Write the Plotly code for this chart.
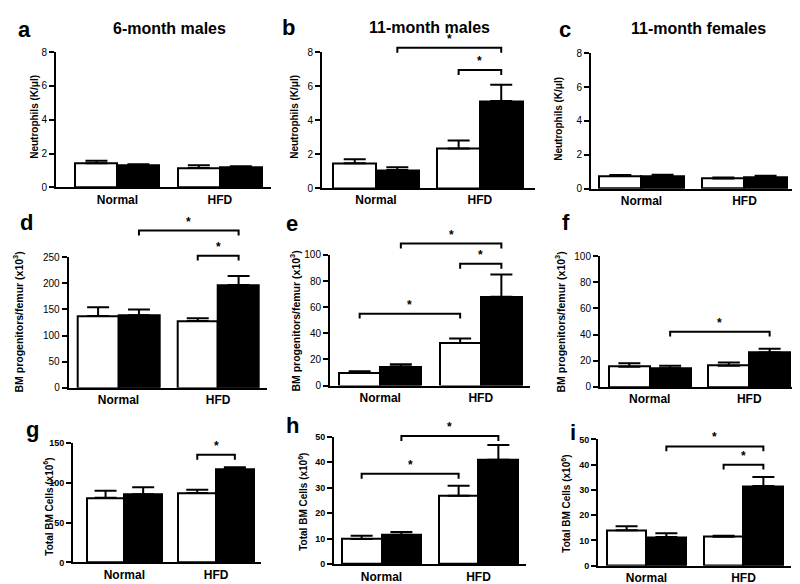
import plotly.graph_objects as go

W, H = 800, 584
FONT = "Liberation Sans, Arial, sans-serif"

groups = ["Normal", "HFD"]

# ---- data (mean, SEM) : white = control series, black = treated series ----
a_white = [1.43, 1.14]; a_white_err = [0.15, 0.17]
a_black = [1.30, 1.22]; a_black_err = [0.07, 0.03]

b_white = [1.46, 2.33]; b_white_err = [0.24, 0.47]
b_black = [1.06, 5.13]; b_black_err = [0.17, 0.97]

c_white = [0.75, 0.60]; c_white_err = [0.06, 0.06]
c_black = [0.72, 0.70]; c_black_err = [0.10, 0.06]

d_white = [137.5, 128.0]; d_white_err = [16.5, 5.0]
d_black = [139.0, 197.0]; d_black_err = [11.0, 17.0]

e_white = [9.5, 32.5]; e_white_err = [1.5, 3.5]
e_black = [14.5, 68.0]; e_black_err = [1.7, 17.0]

f_white = [15.5, 16.25]; f_white_err = [2.5, 2.5]
f_black = [14.25, 26.25]; f_black_err = [2.0, 3.0]

g_white = [81.4, 87.5]; g_white_err = [9.0, 4.0]
g_black = [86.0, 117.5]; g_black_err = [8.7, 2.5]

h_white = [9.9, 26.9]; h_white_err = [1.3, 3.9]
h_black = [11.5, 41.0]; h_black_err = [1.1, 5.8]

i_white = [14.0, 11.5]; i_white_err = [1.6, 0.4]
i_black = [11.4, 31.6]; i_black_err = [1.5, 3.5]

# significance brackets: ((group, series), (group, series), height)
b_brackets = [((0, 1), (1, 1), 8.28), ((1, 0), (1, 1), 6.96)]
d_brackets = [((0, 1), (1, 1), 301), ((1, 0), (1, 1), 253)]
e_brackets = [((0, 1), (1, 1), 108.75), ((1, 0), (1, 1), 93.25), ((0, 0), (1, 0), 55)]
f_brackets = [((0, 1), (1, 1), 42.25)]
g_brackets = [((1, 0), (1, 1), 135.6)]
h_brackets = [((0, 1), (1, 1), 50.3), ((0, 0), (1, 0), 35.5)]
i_brackets = [((0, 1), (1, 1), 47.2), ((1, 0), (1, 1), 40.0)]

neut_ticks = [0, 2, 4, 6, 8]
d_ticks = [0, 50, 100, 150, 200, 250]
ef_ticks = [0, 20, 40, 60, 80, 100]
g_ticks = [0, 50, 100, 150]
hi_ticks = [0, 10, 20, 30, 40, 50]

neut_title = "Neutrophils (K/\u03bcl)"
prog_title = "BM progenitors/femur (x10<sup>3</sup>)"
cells_title = "Total BM Cells (x10<sup>6</sup>)"

# ---- layout geometry (pixels) ----
panels = [
    dict(L="a", w=a_white, we=a_white_err, b=a_black, be=a_black_err, br=[],
         ticks=neut_ticks, yt=neut_title, xpx=(48, 263), xr=(-0.60, 1.50),
         ypx=(39, 177), bold=False, lp=(16, 16), tp=(27, 105), tsz=10),
    dict(L="b", w=b_white, we=b_white_err, b=b_black, be=b_black_err, br=b_brackets,
         ticks=neut_ticks, yt=neut_title, xpx=(314, 527), xr=(-0.52, 1.53),
         ypx=(39.3, 177.7), bold=False, lp=(280, 14), tp=(287, 105), tsz=10),
    dict(L="c", w=c_white, we=c_white_err, b=c_black, be=c_black_err, br=[],
         ticks=neut_ticks, yt=neut_title, xpx=(583, 789), xr=(-0.49, 1.51),
         ypx=(40, 178.3), bold=False, lp=(557, 16), tp=(551, 107), tsz=10),
    dict(L="d", w=d_white, we=d_white_err, b=d_black, be=d_black_err, br=d_brackets,
         ticks=d_ticks, yt=prog_title, xpx=(60.7, 259), xr=(-0.50, 1.49),
         ypx=(248.3, 381.7), bold=False, lp=(18, 213), tp=(10, 315), tsz=10.5),
    dict(L="e", w=e_white, we=e_white_err, b=e_black, be=e_black_err, br=e_brackets,
         ticks=ef_ticks, yt=prog_title, xpx=(322, 522), xr=(-0.50, 1.49),
         ypx=(246, 379.3), bold=False, lp=(284, 214), tp=(287, 314), tsz=10.5),
    dict(L="f", w=f_white, we=f_white_err, b=f_black, be=f_black_err, br=f_brackets,
         ticks=ef_ticks, yt=prog_title, xpx=(592, 790), xr=(-0.50, 1.49),
         ypx=(247.3, 380.7), bold=False, lp=(558, 213), tp=(552, 315), tsz=10.5),
    dict(L="g", w=g_white, we=g_white_err, b=g_black, be=g_black_err, br=g_brackets,
         ticks=g_ticks, yt=cells_title, xpx=(65, 253), xr=(-0.56, 1.49),
         ypx=(438.3, 560), bold=True, lp=(24, 424), tp=(40, 503), tsz=10),
    dict(L="h", w=h_white, we=h_white_err, b=h_black, be=h_black_err, br=h_brackets,
         ticks=hi_ticks, yt=cells_title, xpx=(326, 518), xr=(-0.49, 1.49),
         ypx=(431.7, 561.7), bold=True, lp=(284, 420), tp=(295, 498), tsz=10),
    dict(L="i", w=i_white, we=i_white_err, b=i_black, be=i_black_err, br=i_brackets,
         ticks=hi_ticks, yt=cells_title, xpx=(590, 783), xr=(-0.50, 1.49),
         ypx=(434.3, 563.3), bold=True, lp=(565, 427), tp=(558, 500), tsz=10),
]

titles = [("6-month males", 161, 15), ("11-month males", 421, 14), ("11-month females", 690, 15)]

BW = 0.41          # bar width in group units
OFF = BW / 2       # offset of each series from group centre
CAP = 11           # error-bar cap half-width (px)

fig = go.Figure()
layout = dict(width=W, height=H, margin=dict(l=0, r=0, t=0, b=0),
              paper_bgcolor="white", plot_bgcolor="white", showlegend=False,
              font=dict(family=FONT, color="black"), bargap=0)
shapes, annotations = [], []

for k, p in enumerate(panels):
    n = "" if k == 0 else str(k + 1)
    xa, ya = "x" + n, "y" + n
    xpos = [gi for gi in range(len(groups))]
    for s, (vals, errs, fill) in enumerate([(p["w"], p["we"], "white"), (p["b"], p["be"], "black")]):
        off = -OFF if s == 0 else OFF
        fig.add_trace(go.Bar(
            x=[v + off for v in xpos], y=vals, width=BW, xaxis=xa, yaxis=ya,
            marker=dict(color=fill, line=dict(color="black", width=2)),
            error_y=dict(type="data", array=errs, arrayminus=[0] * len(errs), symmetric=False,
                         color="black", thickness=2, width=CAP),
            hoverinfo="skip"))
    ymax = p["ticks"][-1]
    x0f, x1f = p["xpx"][0] / W, p["xpx"][1] / W
    yt, yb = p["ypx"]
    layout["xaxis" + n] = dict(domain=[x0f, x1f], range=list(p["xr"]), anchor=ya,
                               showline=True, linecolor="black", linewidth=2,
                               showgrid=False, zeroline=False, ticks="",
                               tickvals=xpos, ticktext=groups, fixedrange=True,
                               tickfont=dict(size=12, family=FONT, color="black", weight="bold"))
    layout["yaxis" + n] = dict(domain=[1 - yb / H, 1 - yt / H], range=[0, ymax], anchor=xa,
                               showline=True, linecolor="black", linewidth=2,
                               showgrid=False, zeroline=False, ticks="outside",
                               ticklen=5, tickwidth=2, tickcolor="black",
                               tickvals=p["ticks"], fixedrange=True,
                               tickfont=dict(size=9 if p["bold"] else 10, family=FONT, color="black",
                                             weight="bold" if p["bold"] else "normal"))

    def to_paper(v, yt=yt, yb=yb, ymax=ymax):
        return 1 - (yb - v / ymax * (yb - yt)) / H

    # brackets (x in data units, y converted to paper so they are not clipped)
    for (g0, s0), (g1, s1), hgt in p["br"]:
        xs = g0 + (-OFF if s0 == 0 else OFF)
        xe = g1 + (-OFF if s1 == 0 else OFF)
        yp = to_paper(hgt)
        yl = yp - 5 / H
        shapes.append(dict(type="path", xref=xa, yref="paper",
                           path=f"M {xs},{yl} L {xs},{yp} L {xe},{yp} L {xe},{yl}",
                           line=dict(color="black", width=2)))
        annotations.append(dict(x=(xs + xe) / 2, y=yp, xref=xa, yref="paper", text="<b>*</b>",
                                showarrow=False, yanchor="bottom", yshift=0,
                                font=dict(size=12, family=FONT, color="black")))
    # panel letter
    annotations.append(dict(x=p["lp"][0] / W, y=1 - p["lp"][1] / H, xref="paper", yref="paper",
                            text="<b>" + p["L"] + "</b>", showarrow=False,
                            xanchor="center", yanchor="middle",
                            font=dict(size=22, family=FONT, color="black")))
    # y-axis title
    annotations.append(dict(x=p["tp"][0] / W, y=1 - p["tp"][1] / H, xref="paper", yref="paper",
                            text="<b>" + p["yt"] + "</b>", showarrow=False, textangle=-90,
                            xanchor="center", yanchor="middle",
                            font=dict(size=p["tsz"], family=FONT, color="black")))

for txt, x, y in titles:
    annotations.append(dict(x=x / W, y=1 - y / H, xref="paper", yref="paper",
                            text="<b>" + txt + "</b>", showarrow=False,
                            xanchor="center", yanchor="middle",
                            font=dict(size=16, family=FONT, color="black")))

layout["shapes"] = shapes
layout["annotations"] = annotations
fig.update_layout(**layout)
fig.write_html("out.html")
